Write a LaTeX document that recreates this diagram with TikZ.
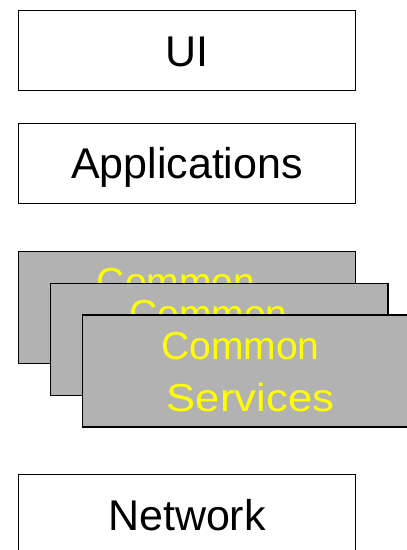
\documentclass[tikz,border=0pt]{standalone}
\usepackage{fontspec}
\setmainfont{Liberation Sans}
\newfontfamily\svfont[FakeStretch=1.12]{Liberation Sans}
\definecolor{boxgray}{HTML}{B2B2B2}
\definecolor{csyellow}{HTML}{FFFF00}
\tikzset{
  layerbox/.style={draw=black, line width=1.2pt, fill=white, anchor=north west,
    minimum width=337.3pt, minimum height=80pt, inner sep=0pt,
    font=\fontsize{43}{50}\selectfont, text height=30.8pt, text depth=0pt},
  csbox/.style={draw=black, line width=1.2pt, fill=boxgray, anchor=north west,
    minimum width=337.3pt, minimum height=112pt, inner sep=0pt},
  cstext/.style={text=csyellow, anchor=base, inner sep=0pt,
    font=\fontsize{39}{52}\selectfont}
}
\begin{document}
\begin{tikzpicture}[x=1pt,y=1pt]
\useasboundingbox (0,0) rectangle (407,-550);
\node[layerbox] (ui) at (17.7,-10) {UI};
\node[layerbox] (apps) at (17.7,-122.7) {Applications};
\foreach \nm/\x/\y in {csA/17.7/250.7, csB/50/282.5, csC/82/314.3}{
  \node[csbox] (\nm) at (\x,-\y) {};
  \node[cstext] (\nm c) at (\x+158.4,-\y-45) {Common};
  \node[cstext] (\nm s) at (\x+168.5,-\y-97.4) {\svfont Services};
}
\node[layerbox] (net) at (17.7,-474) {Network};
\end{tikzpicture}
\end{document}
